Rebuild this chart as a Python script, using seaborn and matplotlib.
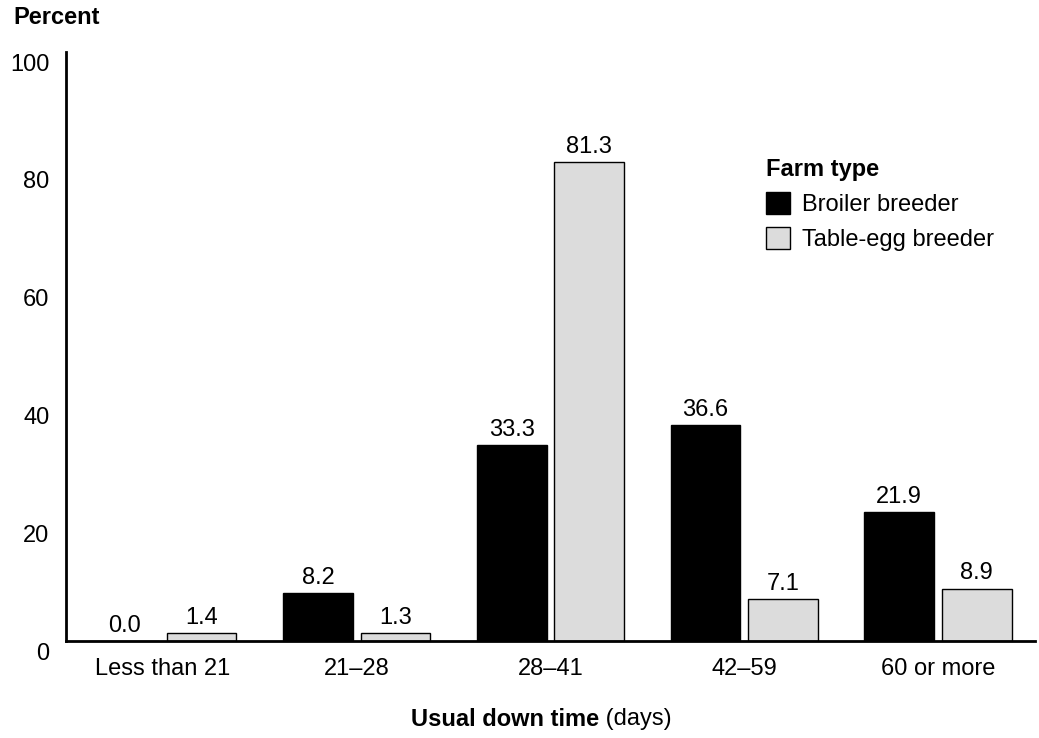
import matplotlib
matplotlib.use("Agg")
import matplotlib.pyplot as plt
import matplotlib.transforms as mtransforms
import seaborn as sns
import pandas as pd

categories = ["Less than 21", "21\u201328", "28\u201341", "42\u201359", "60 or more"]
broiler = [0.0, 8.2, 33.3, 36.6, 21.9]
table_egg = [1.4, 1.3, 81.3, 7.1, 8.9]
series_names = ["Broiler breeder", "Table-egg breeder"]
y_ticks = [0, 20, 40, 60, 80, 100]

df = pd.DataFrame({
    "category": categories * 2,
    "farm": [series_names[0]] * len(categories) + [series_names[1]] * len(categories),
    "value": broiler + table_egg,
})

sns.set_theme(style="white")
plt.rcParams["font.family"] = ["Liberation Sans", "DejaVu Sans"]
plt.rcParams["text.color"] = "black"
plt.rcParams["axes.labelcolor"] = "black"
plt.rcParams["xtick.color"] = "black"
plt.rcParams["ytick.color"] = "black"

fig = plt.figure(figsize=(10.39, 7.38), dpi=100)
ax = fig.add_axes([0.0635, 0.1314, 0.9325, 0.7981])

palette = {series_names[0]: "#000000", series_names[1]: "#DCDCDC"}
sns.barplot(data=df, x="category", y="value", hue="farm", order=categories,
            hue_order=series_names, palette=palette, edgecolor="black",
            linewidth=1.0, width=0.8, gap=0.1, ax=ax, saturation=1)

for cont in ax.containers:
    ax.bar_label(cont, fmt="%.1f", padding=3, fontsize=17, color="black")

ax.set_ylim(0, 100)
ax.set_xlim(-0.5, 4.5)
ax.set_yticks(y_ticks)
ax.set_yticklabels([str(t) for t in y_ticks], fontsize=17)
ax.tick_params(axis="y", length=0, pad=12, colors="black")
ax.tick_params(axis="x", length=0, pad=12, labelsize=17, colors="black")
offset = mtransforms.ScaledTranslation(0, -10 / 100, fig.dpi_scale_trans)
for lbl in ax.get_yticklabels():
    lbl.set_transform(lbl.get_transform() + offset)

for s in ["top", "right"]:
    ax.spines[s].set_visible(False)
for s in ["left", "bottom"]:
    ax.spines[s].set_color("black")
    ax.spines[s].set_linewidth(2)

ax.set_xlabel("")
ax.set_ylabel("")

fig.text(13 / 1039, 1 - 18 / 738, "Percent", fontsize=17, fontweight="bold",
         ha="left", va="center", color="black")

t1 = fig.text(411 / 1039, 1 - 719 / 738, "Usual down time", fontsize=17,
              fontweight="bold", ha="left", va="center", color="black")
ax.annotate(" (days)", xy=(1, 0.5), xycoords=t1, fontsize=17, ha="left",
            va="center", color="black")

handles, labels = ax.get_legend_handles_labels()
leg = ax.legend(handles, labels, title="Farm type", loc="upper left",
                bbox_to_anchor=(0.713, 0.836), frameon=False, fontsize=17,
                title_fontproperties={"weight": "bold", "size": 17},
                handlelength=1.0, handleheight=1.1, handletextpad=0.5,
                labelspacing=0.45, alignment="left", borderaxespad=0)
for txt in leg.get_texts():
    txt.set_color("black")
leg.get_title().set_color("black")

fig.savefig("out.png", dpi=100)
